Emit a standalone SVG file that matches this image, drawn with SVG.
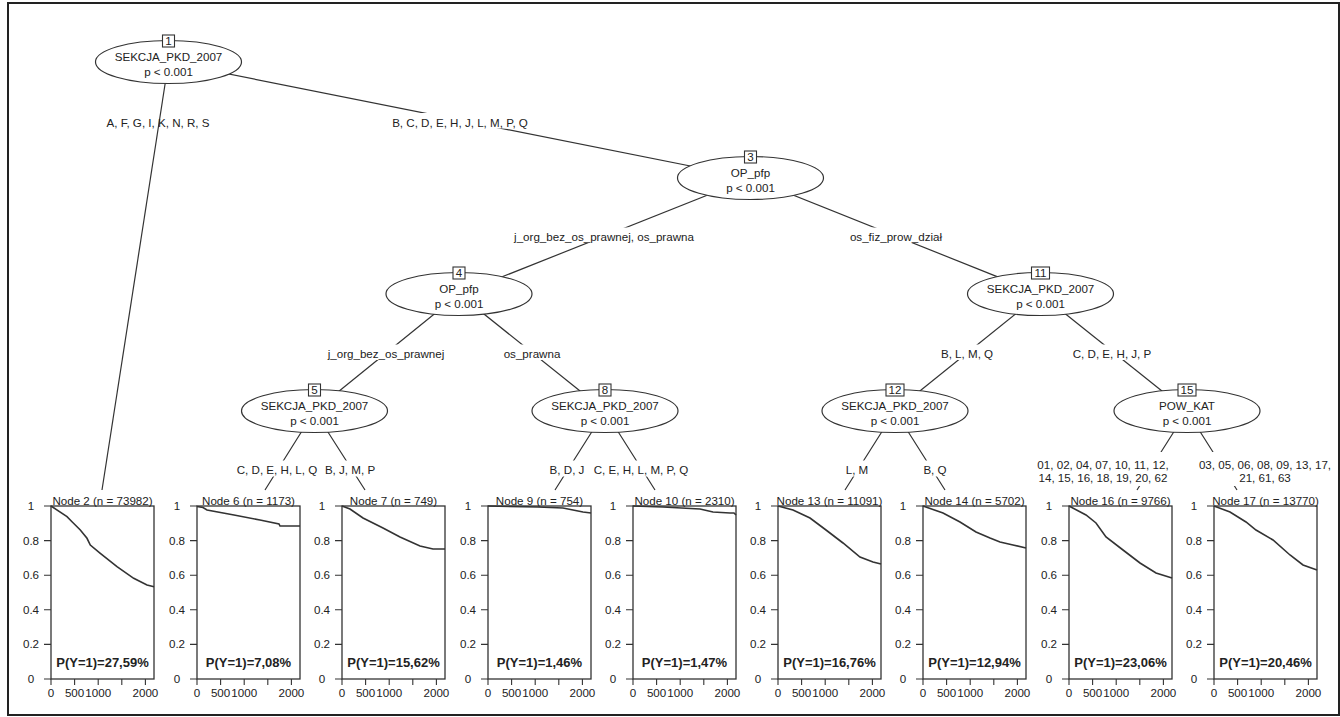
<svg xmlns="http://www.w3.org/2000/svg" xmlns:xlink="http://www.w3.org/1999/xlink" width="1340" height="717" viewBox="0 0 1340 717">
<style>
.t{font-family:"Liberation Sans",Arial,sans-serif;font-size:11.6px;fill:#222;text-anchor:middle}
.p{font-family:"Liberation Sans",Arial,sans-serif;font-size:13px;font-weight:bold;fill:#222;text-anchor:middle}
.edge{stroke:#333;stroke-width:1.2;fill:none}
.bg{fill:#fff}
.inner ellipse{fill:#fff;stroke:#333;stroke-width:1.2}
.nb{fill:#fff;stroke:#333;stroke-width:1.1}
.box{fill:none;stroke:#333;stroke-width:1.3}
.tick{stroke:#333;stroke-width:1.1;fill:none}
.curve{stroke:#333;stroke-width:1.6;fill:none}
.frame{fill:none;stroke:#222;stroke-width:2}
</style>
<defs>
<g id="ax">
<rect x="0" y="0" width="103" height="173" class="box"/>
<path class="tick" d="M-7 0H0M-7 34.6H0M-7 69.2H0M-7 103.8H0M-7 138.4H0M-7 173H0M0 173V179M23.6 173V179M47.2 173V179M70.8 173V179M94.4 173V179"/>
<text class="t" x="-20" y="4">1</text>
<text class="t" x="-20" y="38.6">0.8</text>
<text class="t" x="-20" y="73.2">0.6</text>
<text class="t" x="-20" y="107.8">0.4</text>
<text class="t" x="-20" y="142.4">0.2</text>
<text class="t" x="-20" y="177">0</text>
<text class="t" x="0" y="191">0</text>
<text class="t" x="23.6" y="191">500</text>
<text class="t" x="47.2" y="191">1000</text>
<text class="t" x="94.4" y="191">2000</text>
</g>
</defs>
<rect x="0" y="0" width="1340" height="717" fill="#fff"/>
<rect class="frame" x="8" y="3" width="1331" height="712"/>

<g id="connectors">
<path class="edge" d="M168.5 62L102 490"/>
<path class="edge" d="M168.5 62L750.5 178"/>
<path class="edge" d="M750.5 178L459 294"/>
<path class="edge" d="M750.5 178L1040.5 294"/>
<path class="edge" d="M459 294L314.5 411"/>
<path class="edge" d="M459 294L605 411"/>
<path class="edge" d="M1040.5 294L895 411"/>
<path class="edge" d="M1040.5 294L1187 411"/>
<path class="edge" d="M314.5 411L265 490M314.5 411L365 490"/>
<path class="edge" d="M605 411L555 490M605 411L655 490"/>
<path class="edge" d="M895 411L845 490M895 411L945 490"/>
<path class="edge" d="M1187 411L1137 490M1187 411L1237 490"/>
<text class="t" x="158" y="127">A, F, G, I, K, N, R, S</text>
<rect class="bg" x="390" y="113" width="140" height="15.5"/>
<text class="t" x="460" y="127">B, C, D, E, H, J, L, M, P, Q</text>
<rect class="bg" x="513" y="227.5" width="182" height="15.5"/>
<text class="t" x="604" y="241">j_org_bez_os_prawnej, os_prawna</text>
<rect class="bg" x="846" y="227.5" width="100" height="15.5"/>
<text class="t" x="896" y="241">os_fiz_prow_dział</text>
<rect class="bg" x="326" y="344.5" width="120" height="15.5"/>
<text class="t" x="386" y="358">j_org_bez_os_prawnej</text>
<rect class="bg" x="503" y="344.5" width="58" height="15.5"/>
<text class="t" x="532" y="358">os_prawna</text>
<rect class="bg" x="940" y="344.5" width="54" height="15.5"/>
<text class="t" x="967" y="358">B, L, M, Q</text>
<rect class="bg" x="1071" y="344.5" width="82" height="15.5"/>
<text class="t" x="1112" y="358">C, D, E, H, J, P</text>
<rect class="bg" x="236" y="460.5" width="83" height="16"/>
<text class="t" x="277" y="474">C, D, E, H, L, Q</text>
<rect class="bg" x="324" y="460.5" width="52" height="16"/>
<text class="t" x="350" y="474">B, J, M, P</text>
<rect class="bg" x="548" y="460.5" width="38" height="16"/>
<text class="t" x="567" y="474">B, D, J</text>
<rect class="bg" x="592" y="460.5" width="98" height="16"/>
<text class="t" x="641" y="474">C, E, H, L, M, P, Q</text>
<rect class="bg" x="844" y="460.5" width="26" height="16"/>
<text class="t" x="857" y="474">L, M</text>
<rect class="bg" x="922" y="460.5" width="26" height="16"/>
<text class="t" x="935" y="474">B, Q</text>
<rect class="bg" x="1036" y="452" width="134" height="34"/>
<text class="t" x="1103" y="469">01, 02, 04, 07, 10, 11, 12,</text>
<text class="t" x="1103" y="482">14, 15, 16, 18, 19, 20, 62</text>
<rect class="bg" x="1198" y="452" width="134" height="34"/>
<text class="t" x="1265" y="469">03, 05, 06, 08, 09, 13, 17,</text>
<text class="t" x="1265" y="482">21, 61, 63</text>
</g>

<g id="node1" class="inner">
<ellipse cx="168.5" cy="62" rx="73" ry="21.5"/>
<rect class="nb" x="162.5" y="35" width="12" height="12"/>
<text class="t" x="168.5" y="45">1</text>
<text class="t" x="168.5" y="61">SEKCJA_PKD_2007</text>
<text class="t" x="168.5" y="75.5">p &lt; 0.001</text>
</g>
<g id="node3" class="inner">
<ellipse cx="750.5" cy="178" rx="73" ry="21.5"/>
<rect class="nb" x="744.5" y="151" width="12" height="12"/>
<text class="t" x="750.5" y="161">3</text>
<text class="t" x="750.5" y="177">OP_pfp</text>
<text class="t" x="750.5" y="191.5">p &lt; 0.001</text>
</g>
<g id="node4" class="inner">
<ellipse cx="459" cy="294" rx="73" ry="21.5"/>
<rect class="nb" x="453" y="267" width="12" height="12"/>
<text class="t" x="459" y="277">4</text>
<text class="t" x="459" y="293">OP_pfp</text>
<text class="t" x="459" y="307.5">p &lt; 0.001</text>
</g>
<g id="node11" class="inner">
<ellipse cx="1040.5" cy="294" rx="73" ry="21.5"/>
<rect class="nb" x="1031.5" y="267" width="18" height="12"/>
<text class="t" x="1040.5" y="277">11</text>
<text class="t" x="1040.5" y="293">SEKCJA_PKD_2007</text>
<text class="t" x="1040.5" y="307.5">p &lt; 0.001</text>
</g>
<g id="node5" class="inner">
<ellipse cx="314.5" cy="411" rx="73" ry="21.5"/>
<rect class="nb" x="308.5" y="384" width="12" height="12"/>
<text class="t" x="314.5" y="394">5</text>
<text class="t" x="314.5" y="410">SEKCJA_PKD_2007</text>
<text class="t" x="314.5" y="424.5">p &lt; 0.001</text>
</g>
<g id="node8" class="inner">
<ellipse cx="605" cy="411" rx="73" ry="21.5"/>
<rect class="nb" x="599" y="384" width="12" height="12"/>
<text class="t" x="605" y="394">8</text>
<text class="t" x="605" y="410">SEKCJA_PKD_2007</text>
<text class="t" x="605" y="424.5">p &lt; 0.001</text>
</g>
<g id="node12" class="inner">
<ellipse cx="895" cy="411" rx="73" ry="21.5"/>
<rect class="nb" x="886" y="384" width="18" height="12"/>
<text class="t" x="895" y="394">12</text>
<text class="t" x="895" y="410">SEKCJA_PKD_2007</text>
<text class="t" x="895" y="424.5">p &lt; 0.001</text>
</g>
<g id="node15" class="inner">
<ellipse cx="1187" cy="411" rx="73" ry="21.5"/>
<rect class="nb" x="1178" y="384" width="18" height="12"/>
<text class="t" x="1187" y="394">15</text>
<text class="t" x="1187" y="410">POW_KAT</text>
<text class="t" x="1187" y="424.5">p &lt; 0.001</text>
</g>

<g id="node2" transform="translate(51,506)">
<use href="#ax" xlink:href="#ax"/>
<text class="t" x="51.5" y="-1.5">Node 2 (n = 73982)</text>
<polyline class="curve" points="0,0 16,10.7 21,15.7 29.3,24 36,32.3 39.3,39 49.3,47.3 66,60.7 82.7,72.3 96,79 103,80.7"/>
<text class="p" x="51.5" y="161">P(Y=1)=27,59%</text>
</g>
<g id="node6" transform="translate(197,506)">
<use href="#ax" xlink:href="#ax"/>
<text class="t" x="51.5" y="-1.5">Node 6 (n = 1173)</text>
<polyline class="curve" points="0,0.5 6,1.5 10,4 37,9 63,14 82,18 83,20 103,20"/>
<text class="p" x="51.5" y="161">P(Y=1)=7,08%</text>
</g>
<g id="node7" transform="translate(342,506)">
<use href="#ax" xlink:href="#ax"/>
<text class="t" x="51.5" y="-1.5">Node 7 (n = 749)</text>
<polyline class="curve" points="0,0 8,3 21,12 41,22 58,31 78,40 91,43 103,43"/>
<text class="p" x="51.5" y="161">P(Y=1)=15,62%</text>
</g>
<g id="node9" transform="translate(488,506)">
<use href="#ax" xlink:href="#ax"/>
<text class="t" x="51.5" y="-1.5">Node 9 (n = 754)</text>
<polyline class="curve" points="0,0 50,1 75,2 85,4 95,6 103,7"/>
<text class="p" x="51.5" y="161">P(Y=1)=1,46%</text>
</g>
<g id="node10" transform="translate(633,506)">
<use href="#ax" xlink:href="#ax"/>
<text class="t" x="51.5" y="-1.5">Node 10 (n = 2310)</text>
<polyline class="curve" points="0,0 30,1 67,3 80,6 97,7 101,7 103,9"/>
<text class="p" x="51.5" y="161">P(Y=1)=1,47%</text>
</g>
<g id="node13" transform="translate(778,506)">
<use href="#ax" xlink:href="#ax"/>
<text class="t" x="51.5" y="-1.5">Node 13 (n = 11091)</text>
<polyline class="curve" points="0,0 15,4 32,12 48,24 65,37 82,51 95,56 103,58"/>
<text class="p" x="51.5" y="161">P(Y=1)=16,76%</text>
</g>
<g id="node14" transform="translate(923,506)">
<use href="#ax" xlink:href="#ax"/>
<text class="t" x="51.5" y="-1.5">Node 14 (n = 5702)</text>
<polyline class="curve" points="0,0 20,7 37,16 53,26 67,32 77,36 90,39 103,42"/>
<text class="p" x="51.5" y="161">P(Y=1)=12,94%</text>
</g>
<g id="node16" transform="translate(1069,506)">
<use href="#ax" xlink:href="#ax"/>
<text class="t" x="51.5" y="-1.5">Node 16 (n = 9766)</text>
<polyline class="curve" points="0,0 17,9 27,17 37,31 54,44 71,57 87,67 103,72"/>
<text class="p" x="51.5" y="161">P(Y=1)=23,06%</text>
</g>
<g id="node17" transform="translate(1214,506)">
<use href="#ax" xlink:href="#ax"/>
<text class="t" x="51.5" y="-1.5">Node 17 (n = 13770)</text>
<polyline class="curve" points="0,0 16,6 32,16 42,24 59,34 76,49 89,59 103,64"/>
<text class="p" x="51.5" y="161">P(Y=1)=20,46%</text>
</g>
</svg>
